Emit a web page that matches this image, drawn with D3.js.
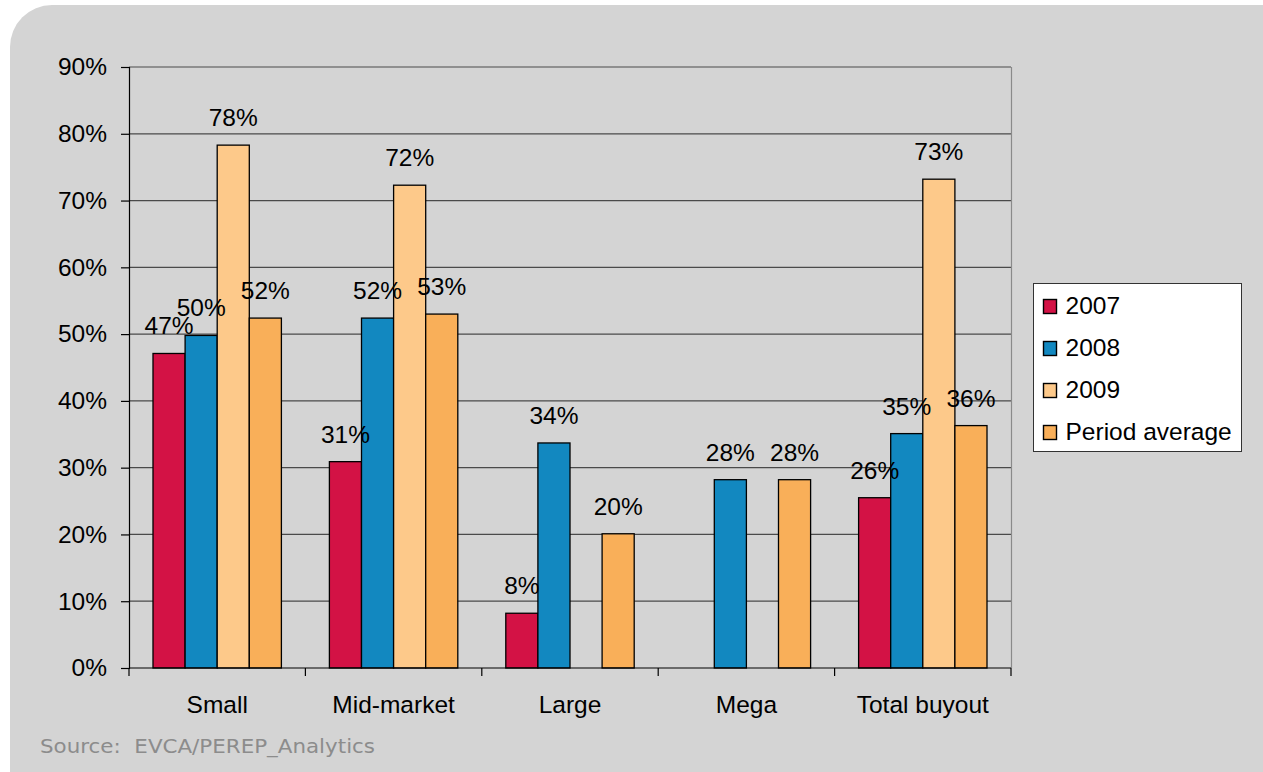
<!DOCTYPE html>
<html>
<head>
<meta charset="utf-8">
<script src="https://cdn.jsdelivr.net/npm/d3@7"></script>
<style>
  html, body { margin: 0; padding: 0; background: #ffffff; }
  svg { display: block; }
</style>
</head>
<body>
<svg id="chart" width="1263" height="772"></svg>
<script>
const categories = ["Small", "Mid-market", "Large", "Mega", "Total buyout"];
const seriesNames = ["2007", "2008", "2009", "Period average"];
const values2007 = [47.1, 30.9, 8.2, null, 25.5];
const values2008 = [49.8, 52.4, 33.7, 28.2, 35.1];
const values2009 = [78.3, 72.3, null, null, 73.2];
const valuesAvg = [52.4, 53.0, 20.1, 28.2, 36.3];
const labels2007 = ["47%", "31%", "8%", null, "26%"];
const labels2008 = ["50%", "52%", "34%", "28%", "35%"];
const labels2009 = ["78%", "72%", null, null, "73%"];
const labelsAvg = ["52%", "53%", "20%", "28%", "36%"];
const yTicks = [0, 10, 20, 30, 40, 50, 60, 70, 80, 90];
const colors = ["#D31245", "#1288C0", "#FDC98A", "#F9AF59"];
const sourceText = "Source:  EVCA/PEREP_Analytics";

const seriesValues = [values2007, values2008, values2009, valuesAvg];
const seriesLabels = [labels2007, labels2008, labels2009, labelsAvg];

const svg = d3.select("#chart");
const font = "'Liberation Sans', Arial, sans-serif";
const fs = 24.5;

// background panel
svg.append("rect").attr("x", 10).attr("y", 5).attr("width", 1300).attr("height", 820)
  .attr("rx", 42).attr("ry", 42).attr("fill", "#D4D4D4");

const pLeft = 129, pRight = 1011, pTop = 67, pBottom = 668;

const x = d3.scaleBand().domain(categories).range([pLeft, pRight]).paddingInner(0).paddingOuter(0);
const y = d3.scaleLinear().domain([0, 90]).range([pBottom, pTop]);
const groupPad = 24;
const xs = d3.scaleBand().domain(seriesNames).range([groupPad, x.bandwidth() - groupPad]).padding(0);

// gridlines
svg.append("g").selectAll("line").data(yTicks.filter(d => d > 0)).join("line")
  .attr("x1", pLeft).attr("x2", pRight)
  .attr("y1", d => y(d)).attr("y2", d => y(d))
  .attr("stroke", "#4a4a4a").attr("stroke-width", 1.2);

// plot-area right border
svg.append("line").attr("x1", pRight + 0.5).attr("x2", pRight + 0.5).attr("y1", pTop).attr("y2", pBottom)
  .attr("stroke", "#8a8a8a").attr("stroke-width", 1.2);

// y axis
const yAxis = d3.axisLeft(y).tickValues(yTicks).tickFormat(d => d + "%").tickSize(8).tickPadding(14);
const gy = svg.append("g").attr("transform", `translate(${pLeft},0)`).call(yAxis);
gy.select(".domain").attr("stroke", "#000").attr("stroke-width", 1.2);
gy.selectAll(".tick line").attr("stroke", "#000").attr("stroke-width", 1.2);
gy.selectAll(".tick text").attr("font-family", font).attr("font-size", fs).attr("fill", "#000");

// bars
const barsG = svg.append("g");
seriesNames.forEach((s, si) => {
  const data = categories.map((c, ci) => ({ c, v: seriesValues[si][ci], l: seriesLabels[si][ci] }))
    .filter(d => d.v !== null);
  barsG.selectAll(null).data(data).join("rect")
    .attr("x", d => x(d.c) + xs(s))
    .attr("y", d => y(d.v))
    .attr("width", xs.bandwidth())
    .attr("height", d => y(0) - y(d.v))
    .attr("fill", colors[si])
    .attr("stroke", "#000").attr("stroke-width", 1.3);
});

// x axis
const xAxisLine = svg.append("g");
xAxisLine.append("line").attr("x1", pLeft).attr("x2", pRight).attr("y1", pBottom).attr("y2", pBottom)
  .attr("stroke", "#000").attr("stroke-width", 1.2);
const boundaries = categories.map(c => x(c)).concat([pRight]);
xAxisLine.selectAll(".xt").data(boundaries).join("line")
  .attr("x1", d => d).attr("x2", d => d).attr("y1", pBottom).attr("y2", pBottom + 8)
  .attr("stroke", "#000").attr("stroke-width", 1.2);
xAxisLine.selectAll("text").data(categories).join("text")
  .attr("x", d => x(d) + x.bandwidth() / 2).attr("y", 713)
  .attr("text-anchor", "middle").attr("font-family", font).attr("font-size", fs).attr("fill", "#000")
  .text(d => d);

// labels
const labG = svg.append("g");
seriesNames.forEach((s, si) => {
  const data = categories.map((c, ci) => ({ c, v: seriesValues[si][ci], l: seriesLabels[si][ci] }))
    .filter(d => d.v !== null);
  labG.selectAll(null).data(data).join("text")
    .attr("x", d => x(d.c) + xs(s) + xs.bandwidth() / 2)
    .attr("y", d => y(d.v) - 19)
    .attr("text-anchor", "middle").attr("font-family", font).attr("font-size", fs).attr("fill", "#000")
    .text(d => d.l);
});

// legend
const lg = svg.append("g").attr("transform", "translate(1033.5,283.5)");
lg.append("rect").attr("width", 208).attr("height", 168).attr("fill", "#fff")
  .attr("stroke", "#333").attr("stroke-width", 1);
seriesNames.forEach((s, i) => {
  const row = lg.append("g").attr("transform", `translate(0,${23 + i * 42})`);
  row.append("rect").attr("x", 10).attr("y", -7).attr("width", 13).attr("height", 14)
    .attr("fill", colors[i]).attr("stroke", "#000").attr("stroke-width", 1.4);
  row.append("text").attr("x", 32).attr("y", 7).attr("font-family", font).attr("font-size", fs)
    .attr("fill", "#000").text(s);
});

// source
svg.append("text").attr("x", 40).attr("y", 753)
  .attr("font-family", "'DejaVu Sans', Verdana, sans-serif").attr("font-size", 19)
  .attr("textLength", 335).attr("lengthAdjust", "spacingAndGlyphs")
  .attr("fill", "#8C8C8C").style("white-space", "pre")
  .text(sourceText);
</script>
</body>
</html>
